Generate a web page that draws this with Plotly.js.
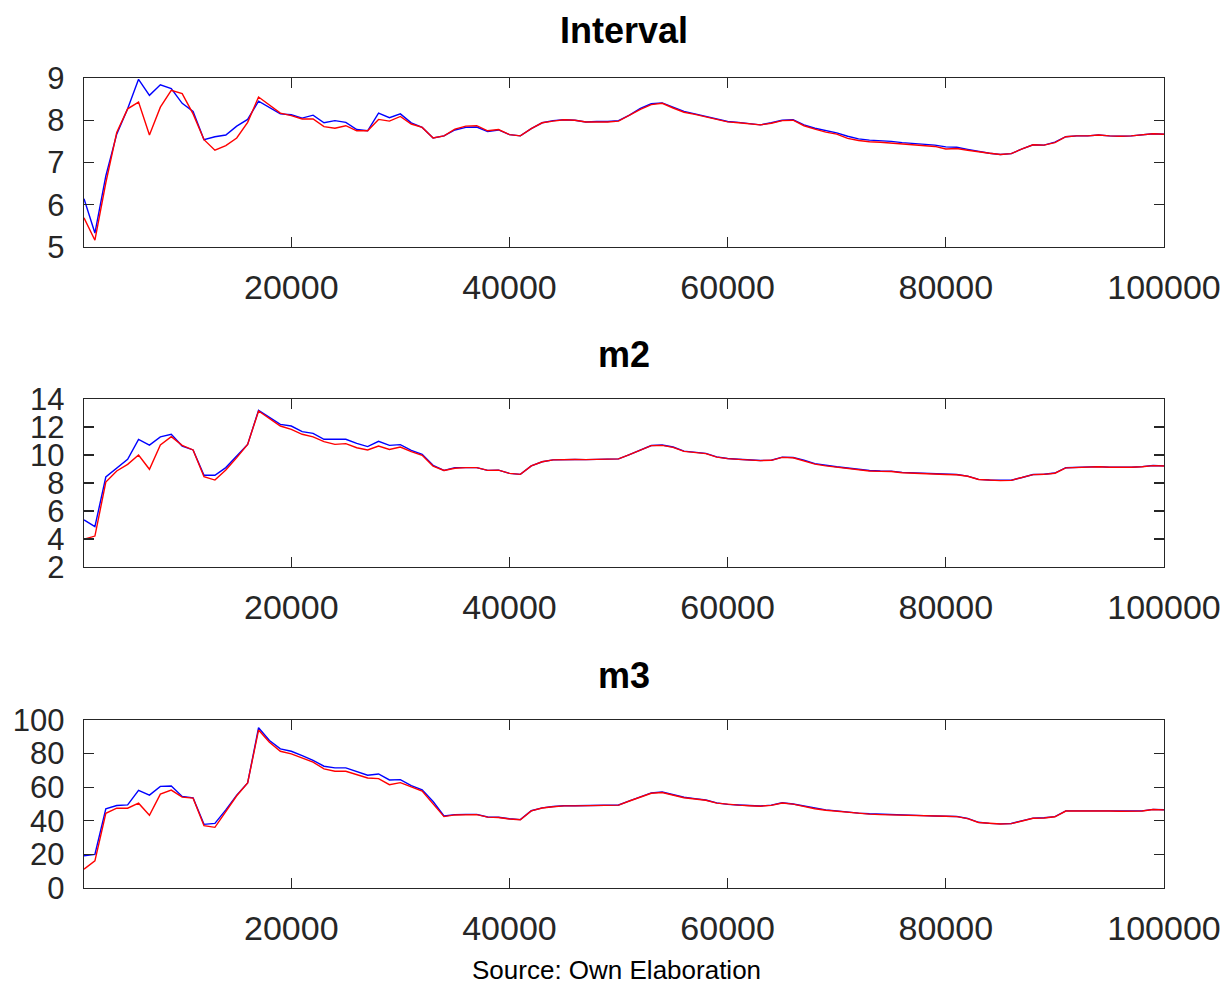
<!DOCTYPE html>
<html>
<head>
<meta charset="utf-8">
<script src="https://cdn.plot.ly/plotly-3.0.1.min.js"></script>
<style>html,body{margin:0;padding:0;background:#fff}#chart{width:1227px;height:986px}</style>
</head>
<body>
<div id="chart"></div>
<script>
var xSteps = [1000,2000,3000,4000,5000,6000,7000,8000,9000,10000,11000,12000,13000,14000,15000,16000,17000,18000,19000,20000,21000,22000,23000,24000,25000,26000,27000,28000,29000,30000,31000,32000,33000,34000,35000,36000,37000,38000,39000,40000,41000,42000,43000,44000,45000,46000,47000,48000,49000,50000,51000,52000,53000,54000,55000,56000,57000,58000,59000,60000,61000,62000,63000,64000,65000,66000,67000,68000,69000,70000,71000,72000,73000,74000,75000,76000,77000,78000,79000,80000,81000,82000,83000,84000,85000,86000,87000,88000,89000,90000,91000,92000,93000,94000,95000,96000,97000,98000,99000,100000];

var intervalBlue = [6.14,5.33,6.68,7.67,8.27,8.97,8.59,8.84,8.75,8.40,8.21,7.54,7.61,7.65,7.86,8.02,8.45,8.31,8.15,8.13,8.05,8.12,7.94,7.99,7.95,7.78,7.75,8.17,8.06,8.15,7.94,7.83,7.58,7.63,7.77,7.83,7.84,7.73,7.77,7.66,7.63,7.80,7.94,7.99,8.01,8.00,7.96,7.97,7.97,7.99,8.12,8.28,8.39,8.41,8.31,8.21,8.15,8.09,8.02,7.97,7.95,7.92,7.89,7.94,8.00,8.01,7.89,7.81,7.75,7.70,7.62,7.56,7.53,7.52,7.50,7.47,7.45,7.44,7.41,7.37,7.36,7.31,7.26,7.22,7.19,7.21,7.32,7.42,7.41,7.48,7.61,7.63,7.63,7.65,7.63,7.62,7.63,7.66,7.68,7.67];
var intervalRed = [5.69,5.16,6.52,7.71,8.27,8.43,7.65,8.31,8.71,8.63,8.15,7.54,7.29,7.40,7.58,7.95,8.55,8.37,8.17,8.11,8.03,8.03,7.85,7.81,7.87,7.75,7.75,8.02,7.98,8.09,7.91,7.83,7.58,7.63,7.79,7.86,7.87,7.75,7.78,7.66,7.63,7.80,7.94,7.98,8.01,8.00,7.96,7.96,7.96,7.98,8.11,8.26,8.37,8.40,8.29,8.19,8.14,8.08,8.01,7.96,7.94,7.91,7.89,7.93,7.99,8.00,7.87,7.79,7.72,7.67,7.57,7.52,7.49,7.48,7.46,7.43,7.41,7.40,7.38,7.32,7.33,7.29,7.25,7.22,7.19,7.21,7.32,7.42,7.41,7.47,7.61,7.63,7.63,7.65,7.63,7.62,7.63,7.66,7.68,7.67];

var m2Blue = [5.36,4.88,8.43,9.05,9.69,11.12,10.71,11.29,11.48,10.64,10.36,8.55,8.55,9.10,9.93,10.76,13.19,12.67,12.19,12.07,11.67,11.55,11.12,11.12,11.12,10.83,10.60,10.98,10.69,10.74,10.33,10.05,9.26,8.90,9.10,9.10,9.10,8.90,8.92,8.69,8.62,9.22,9.52,9.65,9.69,9.68,9.67,9.69,9.69,9.72,10.02,10.33,10.68,10.71,10.57,10.28,10.19,10.12,9.87,9.75,9.70,9.66,9.61,9.63,9.85,9.82,9.63,9.38,9.25,9.16,9.07,8.98,8.89,8.86,8.85,8.76,8.72,8.70,8.67,8.63,8.61,8.49,8.26,8.21,8.18,8.20,8.39,8.61,8.63,8.71,9.09,9.13,9.13,9.17,9.13,9.11,9.13,9.17,9.25,9.22];
var m2Red = [3.98,4.21,8.07,8.86,9.33,10.00,8.98,10.71,11.31,10.69,10.36,8.45,8.21,8.93,9.81,10.76,13.14,12.60,12.07,11.83,11.48,11.29,10.95,10.76,10.81,10.52,10.36,10.64,10.40,10.57,10.24,9.98,9.21,8.90,9.05,9.10,9.10,8.90,8.92,8.69,8.62,9.22,9.52,9.65,9.69,9.68,9.67,9.69,9.69,9.72,10.02,10.33,10.67,10.69,10.55,10.26,10.17,10.10,9.85,9.74,9.69,9.65,9.60,9.62,9.83,9.80,9.60,9.35,9.22,9.13,9.04,8.95,8.86,8.83,8.82,8.73,8.69,8.67,8.64,8.61,8.59,8.48,8.25,8.20,8.17,8.19,8.38,8.60,8.62,8.70,9.08,9.12,9.12,9.16,9.12,9.10,9.12,9.16,9.24,9.21];

var m3Blue = [19.2,20.0,47.1,49.1,49.5,58.1,55.3,60.5,60.7,54.5,53.7,37.9,38.5,46.5,55.3,62.5,95.4,87.8,82.8,81.4,78.8,76.0,72.5,71.5,71.5,69.5,67.1,67.9,64.3,64.5,60.9,58.5,51.5,42.9,43.7,43.8,43.8,42.3,42.1,41.2,40.7,46.0,47.7,48.5,49.0,49.0,49.0,49.3,49.4,49.4,51.9,54.4,56.6,57.1,55.5,54.0,53.2,52.4,50.7,49.8,49.4,49.1,48.8,49.3,50.7,50.0,48.7,47.4,46.5,45.9,45.1,44.6,44.2,43.9,43.8,43.6,43.2,43.1,42.9,42.8,42.6,41.4,39.1,38.5,38.2,38.4,40.0,41.6,41.8,42.5,45.9,46.0,46.0,46.2,45.9,45.8,45.8,45.9,46.8,46.6];
var m3Red = [11.2,16.2,44.5,47.5,47.5,50.5,43.3,55.9,58.3,54.1,53.5,37.1,36.1,45.5,54.9,62.5,94.0,86.8,81.4,79.8,77.4,74.9,70.9,69.5,69.5,67.5,65.5,65.1,61.5,62.7,60.1,57.7,50.1,42.5,43.5,43.7,43.7,42.2,42.0,41.1,40.6,45.9,47.6,48.4,48.9,48.9,48.9,49.2,49.3,49.3,51.8,54.2,56.4,56.8,55.2,53.7,53.0,52.2,50.5,49.7,49.3,49.0,48.7,49.2,50.6,49.9,48.5,47.2,46.3,45.7,44.9,44.4,44.0,43.7,43.6,43.4,43.0,42.9,42.8,42.7,42.5,41.3,39.0,38.4,38.1,38.3,39.9,41.5,41.7,42.4,45.8,45.9,45.9,46.1,45.8,45.7,45.7,45.8,46.7,46.5];

var panelTitles = ["Interval", "m2", "m3"];
var xTickVals = [20000, 40000, 60000, 80000, 100000];
var xTickText = ["20000", "40000", "60000", "80000", "100000"];
var sourceText = "Source: Own Elaboration";

var FONT = "Liberation Sans, Arial, Helvetica, sans-serif";
var INK = "#262626";

function tr(y, color, xa, ya) {
  return {x: xSteps, y: y, type: "scatter", mode: "lines",
          line: {color: color, width: 1.4}, xaxis: xa, yaxis: ya,
          hoverinfo: "skip", showlegend: false};
}
var data = [
  tr(intervalBlue, "#0000ff", "x", "y"), tr(intervalRed, "#ff0000", "x", "y"),
  tr(m2Blue, "#0000ff", "x2", "y2"), tr(m2Red, "#ff0000", "x2", "y2"),
  tr(m3Blue, "#0000ff", "x3", "y3"), tr(m3Red, "#ff0000", "x3", "y3")
];

function xa(anchor) {
  return {range: [1000, 100000], tickvals: xTickVals, ticktext: xTickText,
          showline: true, mirror: "ticks", linecolor: INK, linewidth: 1.3,
          ticks: "inside", ticklen: 10, tickwidth: 1.3, tickcolor: INK,
          showgrid: false, zeroline: false, anchor: anchor, domain: [0, 1],
          ticklabelstandoff: 10,
          tickfont: {family: FONT, size: 34, color: INK}};
}
function ya(dom, range, dtick, anchor) {
  return {range: range, dtick: dtick, tick0: 0, domain: dom,
          showline: true, mirror: "ticks", linecolor: INK, linewidth: 1.3,
          ticks: "inside", ticklen: 10, tickwidth: 1.3, tickcolor: INK,
          showgrid: false, zeroline: false, anchor: anchor,
          ticklabelstandoff: 12,
          tickfont: {family: FONT, size: 31, color: INK}};
}

var titleFont = {family: FONT, size: 36, color: "#000", weight: "bold"};
var layout = {
  width: 1227, height: 986,
  margin: {l: 84, r: 63, t: 78, b: 98},
  paper_bgcolor: "#fff", plot_bgcolor: "#fff",
  showlegend: false,
  xaxis: xa("y"),
  yaxis: ya([0.7914, 1], [5, 9], 1, "x"),
  xaxis2: xa("y2"),
  yaxis2: ya([0.3963, 0.6037], [2, 14], 2, "x2"),
  xaxis3: xa("y3"),
  yaxis3: ya([0, 0.2074], [0, 100], 20, "x3"),
  annotations: [
    {text: panelTitles[0], xref: "paper", yref: "paper", x: 0.5, y: 1.059, xanchor: "center", yanchor: "middle", showarrow: false, font: titleFont},
    {text: panelTitles[1], xref: "paper", yref: "paper", x: 0.5, y: 0.659, xanchor: "center", yanchor: "middle", showarrow: false, font: titleFont},
    {text: panelTitles[2], xref: "paper", yref: "paper", x: 0.5, y: 0.2627, xanchor: "center", yanchor: "middle", showarrow: false, font: titleFont},
    {text: sourceText, xref: "paper", yref: "paper", x: 0.4926, y: -0.1012, xanchor: "center", yanchor: "middle", showarrow: false, font: {family: FONT, size: 26, color: "#000"}}
  ]
};

Plotly.newPlot("chart", data, layout, {displayModeBar: false, staticPlot: true});
</script>
</body>
</html>
